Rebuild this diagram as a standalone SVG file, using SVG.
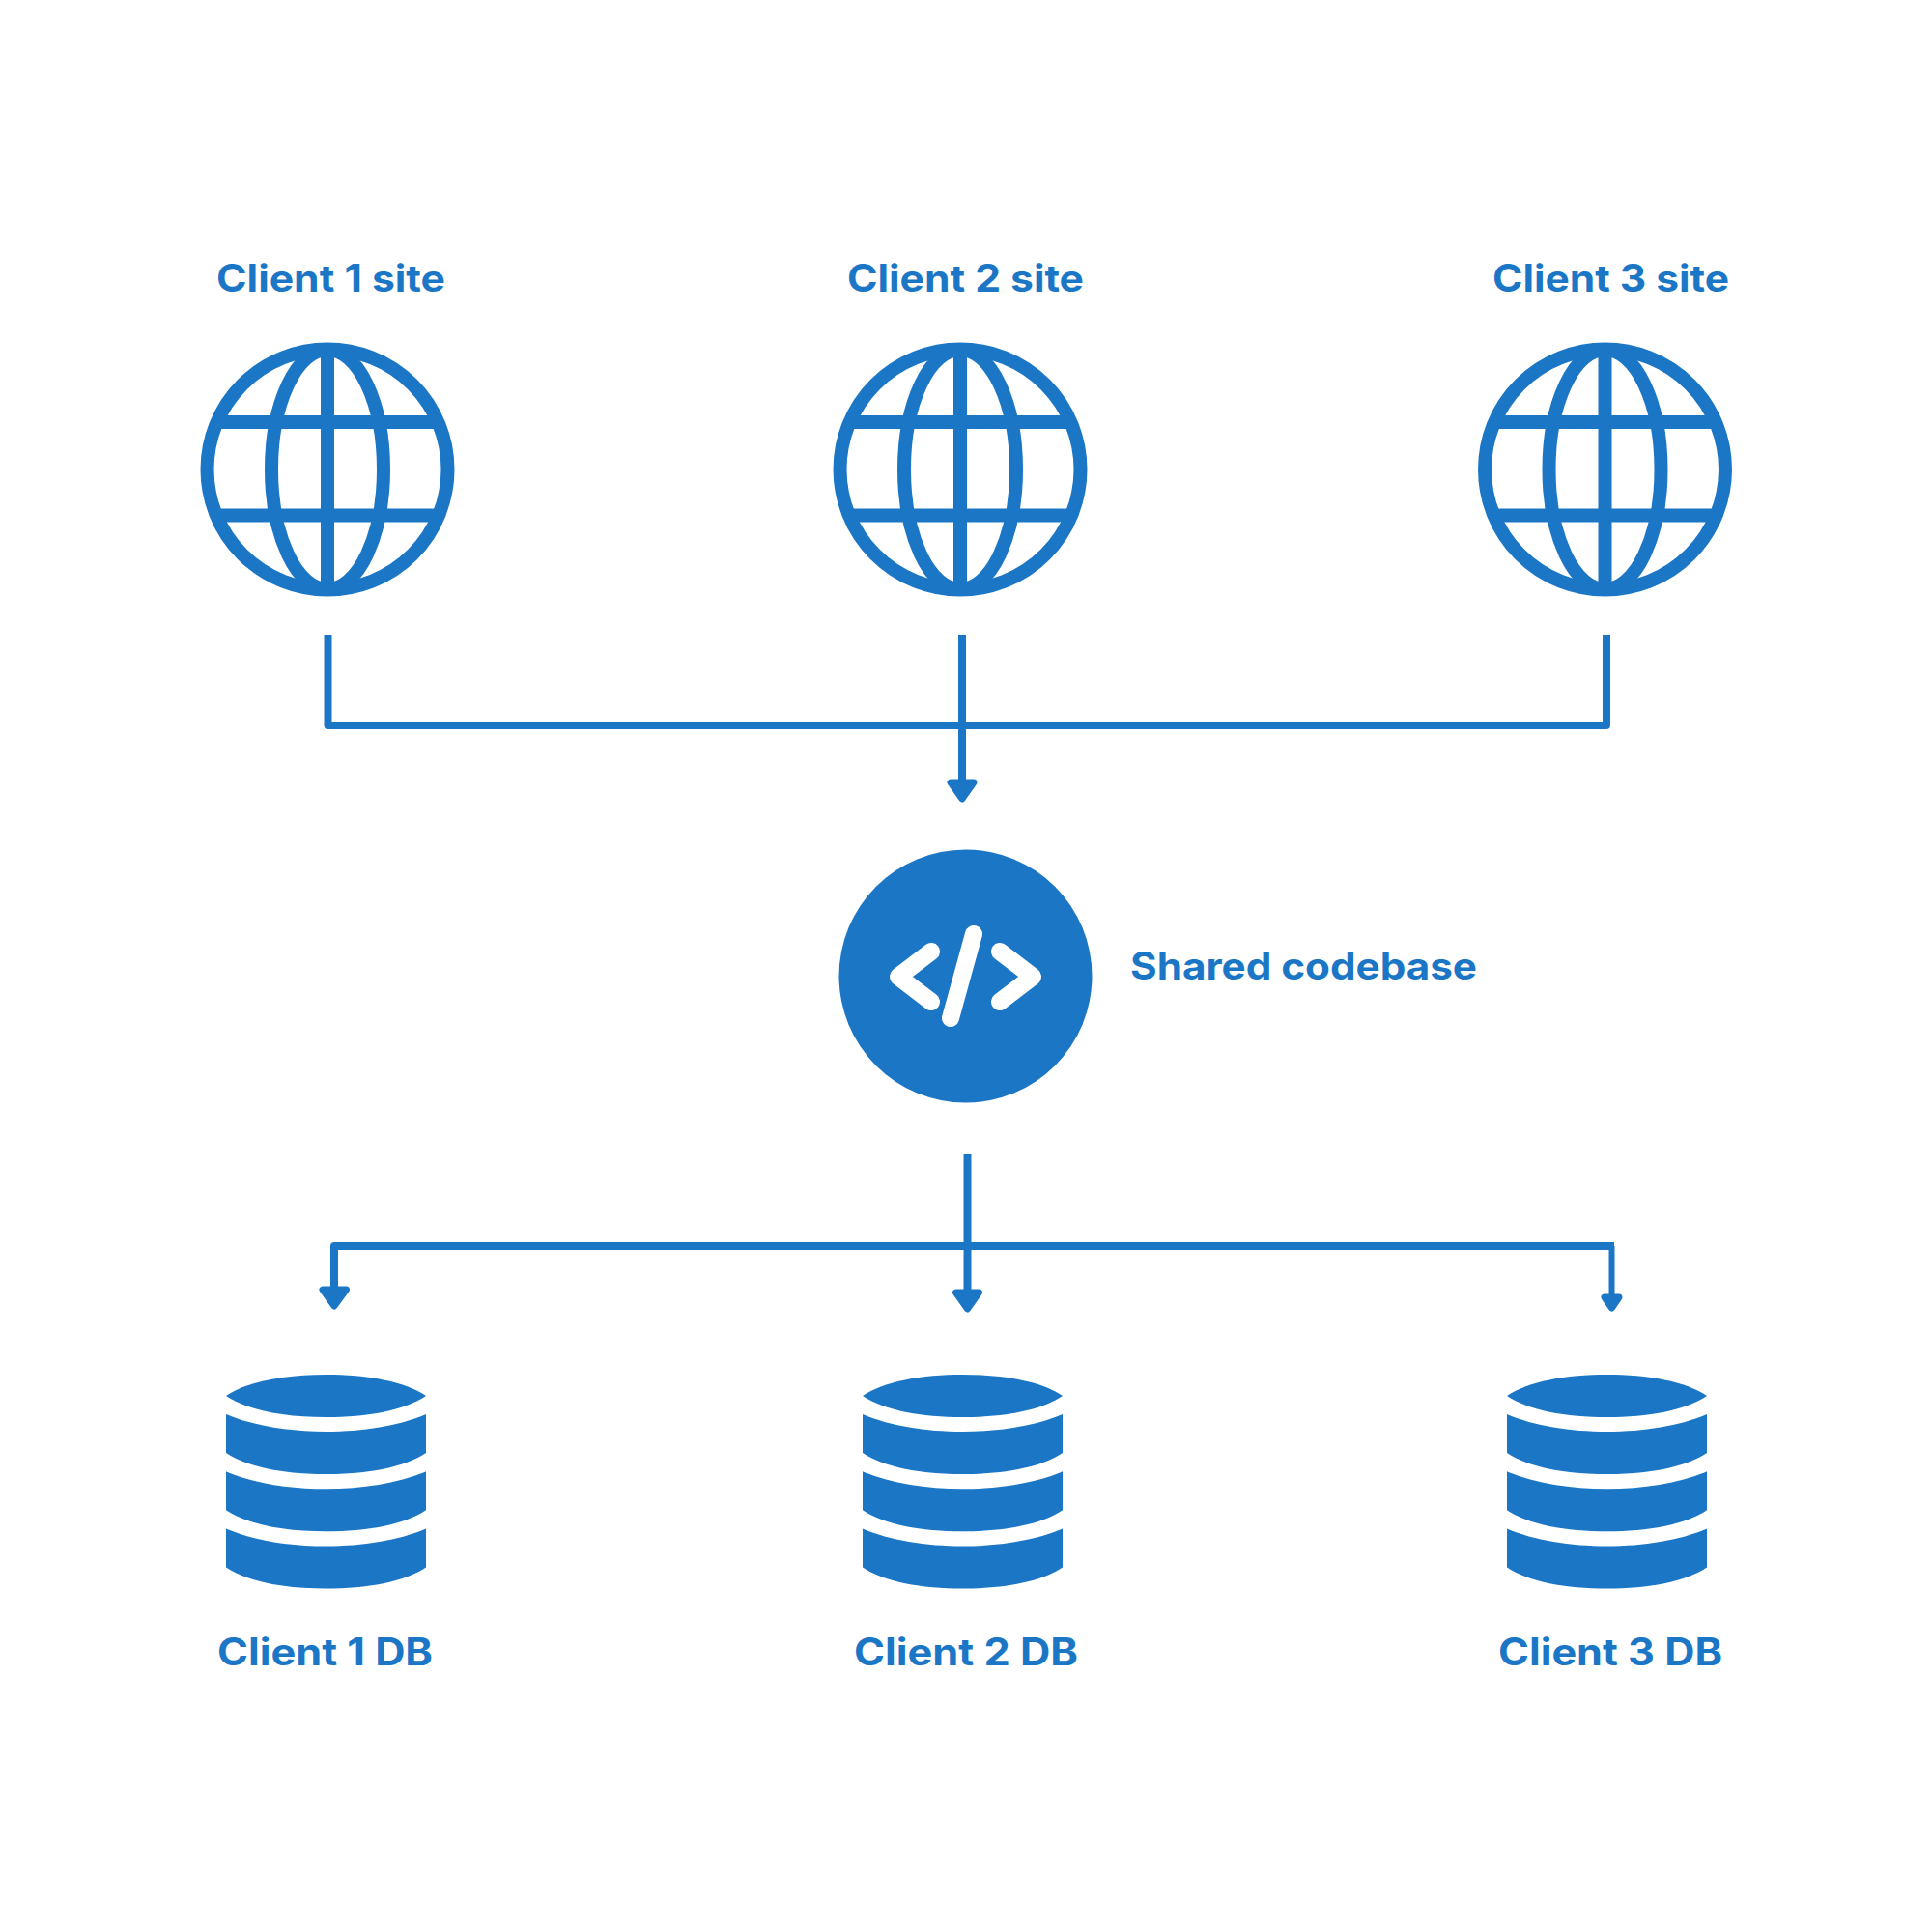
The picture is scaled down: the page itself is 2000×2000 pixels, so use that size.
<svg xmlns="http://www.w3.org/2000/svg" width="2000" height="2000" viewBox="0 0 2000 2000">
<style>
.l{font-family:Inter,"Liberation Sans",sans-serif;font-weight:700;font-size:39px;fill:#1b77c6}
.g{fill:none;stroke:#1b77c6;stroke-width:14}
.c{fill:none;stroke:#1b77c6;stroke-width:8;stroke-linejoin:round}
.a{fill:#1b77c6;stroke:#1b77c6;stroke-width:7;stroke-linejoin:round}
.d{fill:#1b77c6}
.w{fill:none;stroke:#fff;stroke-width:18;stroke-linecap:round;stroke-linejoin:round}
</style>
<defs>
<g id="globe" class="g">
<circle cx="0" cy="0" r="124.500"/>
<ellipse cx="0" cy="0" rx="58" ry="124"/>
<path d="M0-124V124M-116-49H116M-116 47.500H116"/>
</g>
<g id="db" class="d">
<path d="M234 1445C256 1430 295 1423 337.500 1423S419 1430 441 1445C419 1460 380 1467 337.500 1467S256 1460 234 1445Z"/>
<path d="M234 1464C262 1476 300 1482 337.500 1482S413 1476 441 1464V1504C419 1519 380 1526 337.500 1526S256 1519 234 1504Z"/>
<path d="M234 1523.300C262 1535.300 300 1541.300 337.500 1541.300S413 1535.300 441 1523.300V1563.300C419 1578.300 380 1585.300 337.500 1585.300S256 1578.300 234 1563.300Z"/>
<path d="M234 1582.600C262 1594.600 300 1600.600 337.500 1600.600S413 1594.600 441 1582.600V1622.600C419 1637.600 380 1644.600 337.500 1644.600S256 1637.600 234 1622.600Z"/>
</g>
</defs>
<rect width="2000" height="2000" fill="#fff"/>
<g id="connectors">
<path class="c" d="M339.500 657V751H1663V657"/>
<path class="c" d="M996 657V810"/>
<polygon class="a" points="984,810 1008,810 996,827"/>
<path class="c" d="M1001.500 1195V1340"/>
<polygon class="a" points="989.500,1338 1013.500,1338 1001.500,1355"/>
<path class="c" d="M346 1340V1290H1671"/>
<polygon class="a" points="334,1335 358.500,1335 346,1352"/>
<path class="c" style="stroke-width:6" d="M1668.500 1290V1345"/>
<polygon class="a" points="1661,1343 1676,1343 1668.500,1354"/>
</g>
<g id="client1-site"><use href="#globe" x="339" y="486"/><text class="l" x="224" y="302" textLength="237" lengthAdjust="spacingAndGlyphs">Client 1 site</text></g>
<g id="client2-site"><use href="#globe" x="994" y="486"/><text class="l" x="877" y="302" textLength="245" lengthAdjust="spacingAndGlyphs">Client 2 site</text></g>
<g id="client3-site"><use href="#globe" x="1661.500" y="486"/><text class="l" x="1545" y="302" textLength="245" lengthAdjust="spacingAndGlyphs">Client 3 site</text></g>
<g id="shared-codebase">
<circle class="d" cx="999.500" cy="1010.500" r="131"/>
<path class="w" d="M964 985L930 1011L964 1037M1035 985L1069 1011L1035 1037M1008 967L984 1054"/>
<text class="l" x="1170" y="1014" textLength="359" lengthAdjust="spacingAndGlyphs">Shared codebase</text>
</g>
<g id="client1-db"><use href="#db"/><text class="l" x="225" y="1724" textLength="223" lengthAdjust="spacingAndGlyphs">Client 1 DB</text></g>
<g id="client2-db"><use href="#db" x="659"/><text class="l" x="884" y="1724" textLength="232" lengthAdjust="spacingAndGlyphs">Client 2 DB</text></g>
<g id="client3-db"><use href="#db" x="1326"/><text class="l" x="1551" y="1724" textLength="232" lengthAdjust="spacingAndGlyphs">Client 3 DB</text></g>
</svg>
